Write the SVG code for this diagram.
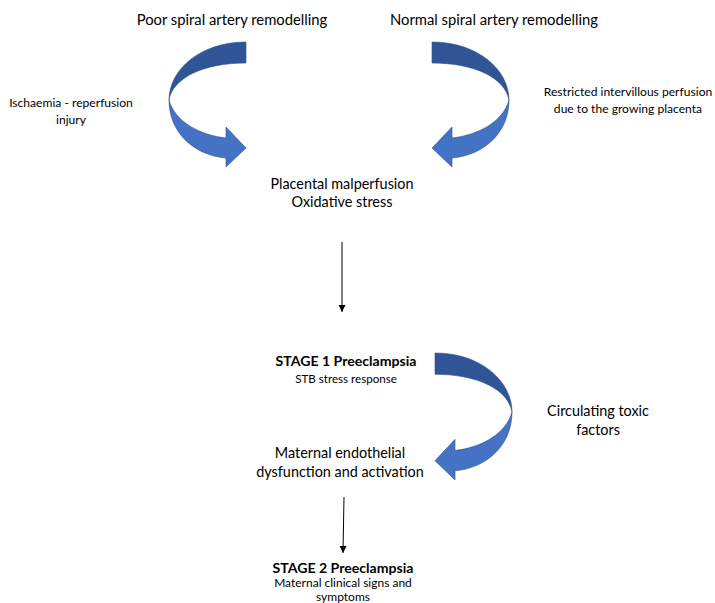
<svg xmlns="http://www.w3.org/2000/svg" width="715" height="603" viewBox="0 0 715 603">
<style>
text{font-family:Lato,"Open Sans","Liberation Sans",sans-serif;fill:#000;text-anchor:middle}
.t16{font-size:14.8px}
.t15{font-size:14.4px}
.t13{font-size:12.1px}
.t12{font-size:11.6px}
.t12b{font-size:12px}
.b{font-weight:bold;font-size:14.1px}
.dark{fill:#2F5597;stroke:#2F528F;stroke-width:0.6}
.light{fill:#4472C4;stroke:#2F528F;stroke-width:0.6}
.line{stroke:#000;stroke-width:1;fill:none}
</style>
<defs>
<g id="curve">
<path class="dark" d="M432,42 C478,42 509,70 509,100 C505,78 475,63 432,63 Z"/>
<path class="light" d="M509,100 C509,132 485,155 452,158 L452,167 L432,148 L452,127 L452,138 C478,135 503,122 509,100 Z"/>
</g>
<marker id="ah" viewBox="0 0 10 10" refX="10" refY="5" markerWidth="7" markerHeight="8" markerUnits="userSpaceOnUse" orient="auto">
<path d="M0,0 L10,5 L0,10 Z" fill="#000"/>
</marker>
</defs>
<g id="connectors">
<use id="arrow-poor" href="#curve" transform="translate(678,0) scale(-1,1)"/>
<use id="arrow-normal" href="#curve"/>
<use id="arrow-toxic" href="#curve" transform="matrix(1,0,0,1.016,3,310.3)"/>
<line class="line" x1="342" y1="242" x2="342" y2="312" marker-end="url(#ah)"/>
<line class="line" x1="344" y1="497" x2="343" y2="553" marker-end="url(#ah)"/>
</g>
<g id="poor"><text class="t16" x="232" y="25">Poor spiral artery remodelling</text></g>
<g id="normal"><text class="t16" x="494" y="25">Normal spiral artery remodelling</text></g>
<g id="ischaemia"><text class="t13" x="71" y="107">Ischaemia - reperfusion</text><text class="t13" x="71" y="124">injury</text></g>
<g id="restricted"><text class="t13" x="628" y="96">Restricted intervillous perfusion</text><text class="t13" x="628" y="113">due to the growing placenta</text></g>
<g id="placental"><text class="t15" x="342" y="189">Placental malperfusion</text><text class="t15" x="342" y="207">Oxidative stress</text></g>
<g id="stage1"><text class="b" x="346" y="366">STAGE 1 Preeclampsia</text><text class="t12" x="346" y="383">STB stress response</text></g>
<g id="toxic"><text class="t15" x="598" y="416">Circulating toxic</text><text class="t15" x="598" y="435">factors</text></g>
<g id="endothelial"><text class="t15" x="340" y="458">Maternal endothelial</text><text class="t15" x="340" y="477">dysfunction and activation</text></g>
<g id="stage2"><text class="b" x="343" y="573">STAGE 2 Preeclampsia</text><text class="t12b" x="343" y="587">Maternal clinical signs and</text><text class="t12b" x="343" y="601">symptoms</text></g>
</svg>
